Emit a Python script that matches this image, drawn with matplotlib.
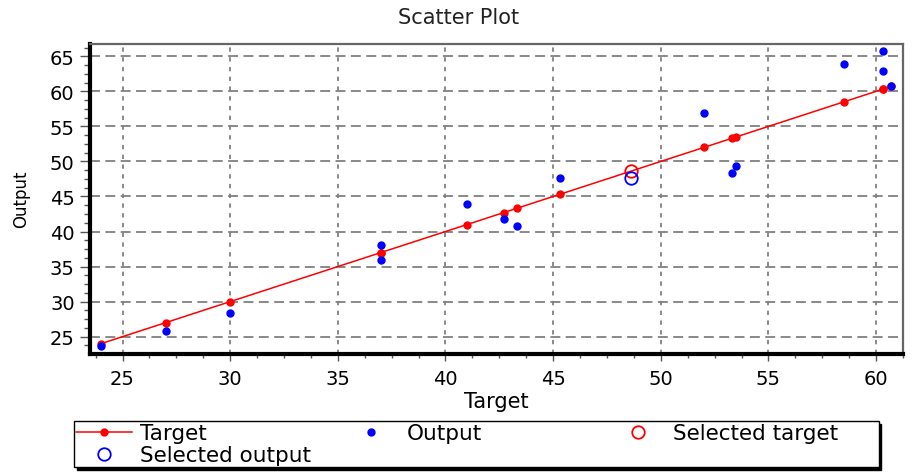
import numpy as np
import matplotlib.pyplot as plt
from matplotlib.ticker import MultipleLocator, AutoMinorLocator

plt.rcParams['font.family'] = ['DejaVu Sans']

# values
target = [24.0, 27.0, 30.0, 37.0, 37.0, 41.0, 42.7, 43.3, 45.3,
          52.0, 53.3, 53.5, 58.5, 60.3, 60.3, 60.7]
output = [23.7, 25.8, 28.4, 38.1, 36.0, 43.9, 41.8, 40.8, 47.7,
          56.9, 48.4, 49.4, 63.9, 65.8, 62.9, 60.8]
sel_target = [48.6]
sel_output = [47.7]

xticks = [25, 30, 35, 40, 45, 50, 55, 60]
yticks = [25, 30, 35, 40, 45, 50, 55, 60, 65]

fig = plt.figure(figsize=(9.17, 4.77), dpi=100)
ax = fig.add_axes([90/917, 1-354.7/477, 813/917, 310/477])

h_t, = ax.plot(target, target, color='red', lw=1.1, marker='o', ms=5, label='Target', zorder=3)
h_o, = ax.plot(target, output, ls='none', marker='o', ms=5, color='blue', label='Output', zorder=4)
h_st, = ax.plot(sel_target, sel_target, ls='none', marker='o', ms=9, mfc='none',
                mec='red', mew=1.3, label='Selected target', zorder=5)
h_so, = ax.plot(sel_target, sel_output, ls='none', marker='o', ms=9, mfc='none',
                mec='blue', mew=1.3, label='Selected output', zorder=5)

ax.set_xlim(23.49, 61.25)
ax.set_ylim(22.57, 66.8)
ax.set_xticks(xticks)
ax.set_yticks(yticks)
ax.xaxis.set_minor_locator(AutoMinorLocator(4))
ax.yaxis.set_minor_locator(AutoMinorLocator(4))

ax.xaxis.grid(True, color='#808080', lw=1.3, ls=(0, (2.4, 3.0)))
ax.yaxis.grid(True, color='#808080', lw=1.3, ls=(0, (5.5, 3.0)))
ax.set_axisbelow(True)

for s in ['left', 'bottom']:
    ax.spines[s].set_linewidth(3)
    ax.spines[s].set_color('black')
for s in ['top', 'right']:
    ax.spines[s].set_linewidth(1.6)
    ax.spines[s].set_color('#666666')

ax.tick_params(axis='x', which='major', length=5, width=1, pad=6, labelsize=14, color='#555555')
ax.tick_params(axis='x', which='minor', length=3, width=1, color='#555555')
ax.tick_params(axis='y', which='major', length=7, width=1, pad=4, labelsize=14, color='#555555')
ax.tick_params(axis='y', which='minor', length=4, width=1, color='#555555')

ax.set_xlabel('Target', fontsize=15)
ax.xaxis.set_label_coords(0.5, -0.12)
ax.xaxis.label.set_va('top')
ax.set_ylabel('Output', fontsize=12)
ax.yaxis.set_label_coords(-0.074, 0.5)

fig.text(0.5, 1-18/477, 'Scatter Plot', ha='center', va='center', fontsize=15, color='#222222')

leg = fig.legend([h_t, h_so, h_o, h_st],
                 ['Target', 'Selected output', 'Output', 'Selected target'],
                 loc='upper left', bbox_to_anchor=(74/917, 1-422/477), ncol=3,
                 fontsize=15.5, frameon=True, fancybox=False, edgecolor='black',
                 framealpha=1, shadow={'color': 'black', 'alpha': 1},
                 borderpad=0.1, handlelength=2.6, handletextpad=0.35,
                 columnspacing=1.5, labelspacing=0.1, borderaxespad=0)
leg.get_frame().set_linewidth(1.0)
leg._legend_handle_box.mode = 'equal'

fig.savefig('out.png', dpi=100)
